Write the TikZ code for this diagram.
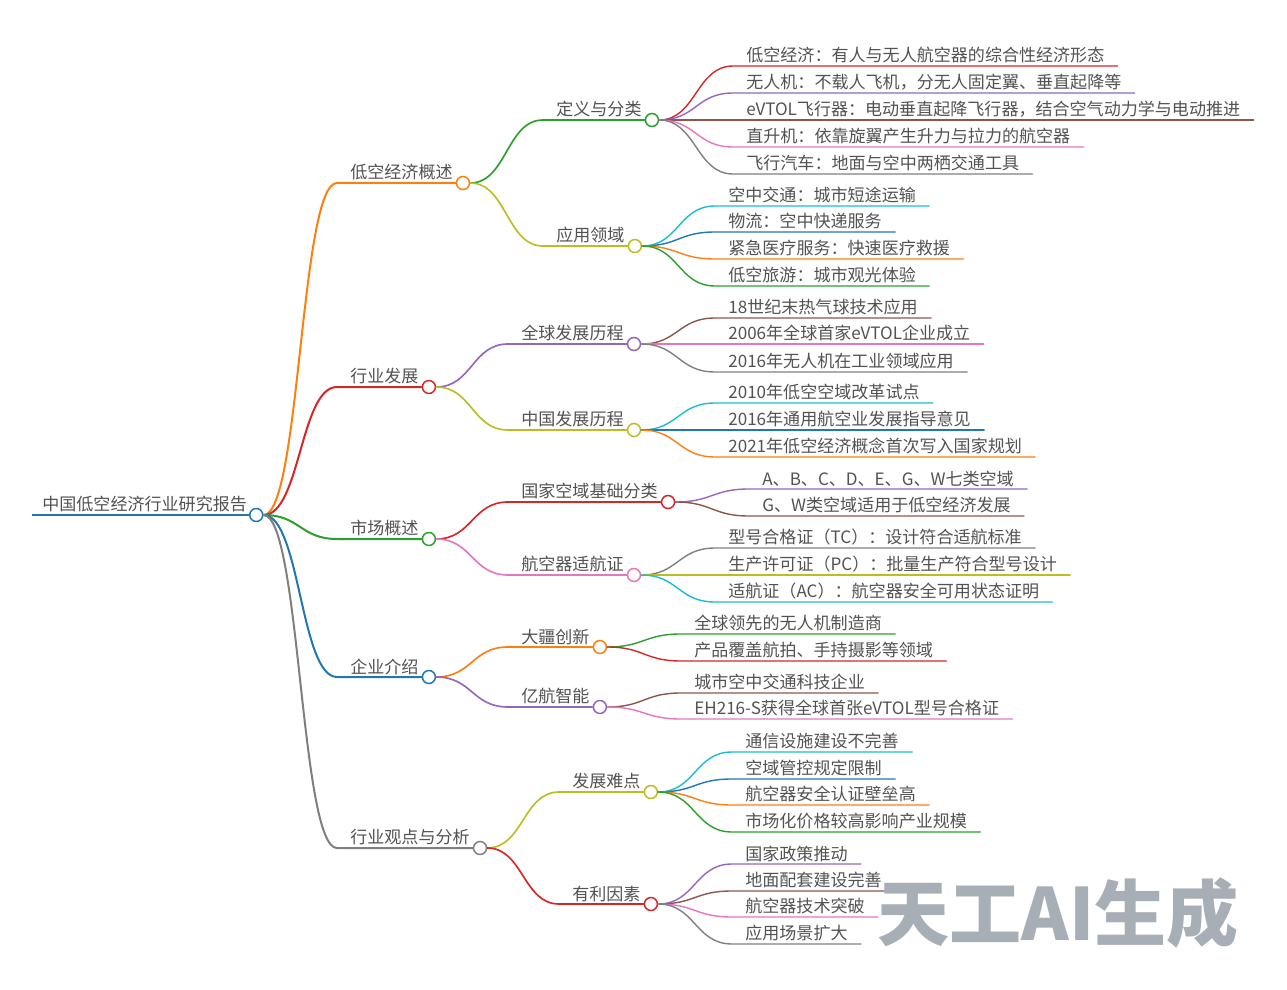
\documentclass[tikz,border=0pt]{standalone}
\usepackage{fontspec}
\setmainfont{Noto Sans CJK SC}
\usepackage{tikz}
\usetikzlibrary{calc}

\definecolor{mblue}{HTML}{1F77B4}
\definecolor{morange}{HTML}{FF7F0E}
\definecolor{mgreen}{HTML}{2CA02C}
\definecolor{mred}{HTML}{D62728}
\definecolor{mpurple}{HTML}{9467BD}
\definecolor{mbrown}{HTML}{8C564B}
\definecolor{mpink}{HTML}{E377C2}
\definecolor{mgray}{HTML}{7F7F7F}
\definecolor{molive}{HTML}{BCBD22}
\definecolor{mcyan}{HTML}{17BECF}
\definecolor{wmgray}{HTML}{A8AEB6}

\begin{document}
\begin{tikzpicture}[x=0.2mm, y=-0.2mm,
  every node/.style={font=\fontsize{9.7}{11}\selectfont, text=black!68, inner ysep=0.45mm},
  topic/.style={anchor=south west, inner xsep=2.6mm},
  dot/.style={circle, draw=#1, fill=white, line width=0.3mm, minimum size=2.6mm, inner sep=0pt},
  link/.style={line cap=round, to path={let \p1=(\tikztostart), \p2=(\tikztotarget) in
    .. controls ({(\x1+\x2)/2},\y1) and ({(\x1+\x2)/2},\y2) .. (\tikztotarget)}},
  w0/.style={line width=0.55mm},
  w1/.style={line width=0.4mm},
  w2/.style={line width=0.33mm},
  w3/.style={line width=0.28mm}]
\useasboundingbox (0,0) rectangle (1287,990);

% root
\node [topic, inner xsep=2mm] (root) at (32,515) {中国低空经济行业研究报告};
\node [dot=mblue] (root-o) at ([xshift=-0.2mm]root.south east) {};
\draw [mblue, w0] (root.south west) -- (root-o.west);

% first level
\node [topic] (ov) at (337,183) {低空经济概述};
\node [dot=morange] (ov-o) at ([xshift=-0.6mm]ov.south east) {};
\draw [morange, w1, link] (root-o.east) to (ov.south west) -- (ov-o.west);
\node [topic] (dev) at (337,387) {行业发展};
\node [dot=mred] (dev-o) at ([xshift=-0.6mm]dev.south east) {};
\draw [mred, w1, link] (root-o.east) to (dev.south west) -- (dev-o.west);
\node [topic] (mkt) at (337,539) {市场概述};
\node [dot=mgreen] (mkt-o) at ([xshift=-0.6mm]mkt.south east) {};
\draw [mgreen, w1, link] (root-o.east) to (mkt.south west) -- (mkt-o.west);
\node [topic] (ent) at (337,677) {企业介绍};
\node [dot=mblue] (ent-o) at ([xshift=-0.6mm]ent.south east) {};
\draw [mblue, w1, link] (root-o.east) to (ent.south west) -- (ent-o.west);
\node [topic] (view) at (337,848) {行业观点与分析};
\node [dot=mgray] (view-o) at ([xshift=-0.6mm]view.south east) {};
\draw [mgray, w1, link] (root-o.east) to (view.south west) -- (view-o.west);

% second level
\node [topic] (def) at (543,120) {定义与分类};
\node [dot=mgreen] (def-o) at ([xshift=-0.6mm]def.south east) {};
\draw [mgreen, w2, link] (ov-o.east) to (def.south west) -- (def-o.west);
\node [topic] (app) at (543,246) {应用领域};
\node [dot=molive] (app-o) at ([xshift=-0.6mm]app.south east) {};
\draw [molive, w2, link] (ov-o.east) to (app.south west) -- (app-o.west);
\node [topic] (glob) at (508,344) {全球发展历程};
\node [dot=mpurple] (glob-o) at ([xshift=-0.6mm]glob.south east) {};
\draw [mpurple, w2, link] (dev-o.east) to (glob.south west) -- (glob-o.west);
\node [topic] (chn) at (508,430) {中国发展历程};
\node [dot=molive] (chn-o) at ([xshift=-0.6mm]chn.south east) {};
\draw [molive, w2, link] (dev-o.east) to (chn.south west) -- (chn-o.west);
\node [topic] (air) at (508,502) {国家空域基础分类};
\node [dot=mred] (air-o) at ([xshift=-0.6mm]air.south east) {};
\draw [mred, w2, link] (mkt-o.east) to (air.south west) -- (air-o.west);
\node [topic] (cert) at (508,575) {航空器适航证};
\node [dot=mpink] (cert-o) at ([xshift=-0.6mm]cert.south east) {};
\draw [mpink, w2, link] (mkt-o.east) to (cert.south west) -- (cert-o.west);
\node [topic] (dji) at (508,647) {大疆创新};
\node [dot=morange] (dji-o) at ([xshift=-0.6mm]dji.south east) {};
\draw [morange, w2, link] (ent-o.east) to (dji.south west) -- (dji-o.west);
\node [topic] (eh) at (508,707) {亿航智能};
\node [dot=mpurple] (eh-o) at ([xshift=-0.6mm]eh.south east) {};
\draw [mpurple, w2, link] (ent-o.east) to (eh.south west) -- (eh-o.west);
\node [topic] (diff) at (559,792) {发展难点};
\node [dot=molive] (diff-o) at ([xshift=-0.6mm]diff.south east) {};
\draw [molive, w2, link] (view-o.east) to (diff.south west) -- (diff-o.west);
\node [topic] (fav) at (559,904) {有利因素};
\node [dot=mred] (fav-o) at ([xshift=-0.6mm]fav.south east) {};
\draw [mred, w2, link] (view-o.east) to (fav.south west) -- (fav-o.west);

% leaves
\node [topic] (d1) at (733,66) {低空经济：有人与无人航空器的综合性经济形态};
\draw [mred, w3, link] (def-o.east) to (d1.south west) -- (d1.south east);
\node [topic] (d2) at (733,93) {无人机：不载人飞机，分无人固定翼、垂直起降等};
\draw [mpurple, w3, link] (def-o.east) to (d2.south west) -- (d2.south east);
\node [topic] (d3) at (733,120) {eVTOL飞行器：电动垂直起降飞行器，结合空气动力学与电动推进};
\draw [mbrown, w3, link] (def-o.east) to (d3.south west) -- (d3.south east);
\node [topic] (d4) at (733,147) {直升机：依靠旋翼产生升力与拉力的航空器};
\draw [mpink, w3, link] (def-o.east) to (d4.south west) -- (d4.south east);
\node [topic] (d5) at (733,174) {飞行汽车：地面与空中两栖交通工具};
\draw [mgray, w3, link] (def-o.east) to (d5.south west) -- (d5.south east);

\node [topic] (a1) at (715,206) {空中交通：城市短途运输};
\draw [mcyan, w3, link] (app-o.east) to (a1.south west) -- (a1.south east);
\node [topic] (a2) at (715,232) {物流：空中快递服务};
\draw [mblue, w3, link] (app-o.east) to (a2.south west) -- (a2.south east);
\node [topic] (a3) at (715,259) {紧急医疗服务：快速医疗救援};
\draw [morange, w3, link] (app-o.east) to (a3.south west) -- (a3.south east);
\node [topic] (a4) at (715,286) {低空旅游：城市观光体验};
\draw [mgreen, w3, link] (app-o.east) to (a4.south west) -- (a4.south east);

\node [topic] (g1) at (715,318) {18世纪末热气球技术应用};
\draw [mbrown, w3, link] (glob-o.east) to (g1.south west) -- (g1.south east);
\node [topic] (g2) at (715,344) {2006年全球首家eVTOL企业成立};
\draw [mpink, w3, link] (glob-o.east) to (g2.south west) -- (g2.south east);
\node [topic] (g3) at (715,372) {2016年无人机在工业领域应用};
\draw [mgray, w3, link] (glob-o.east) to (g3.south west) -- (g3.south east);

\node [topic] (c1) at (715,403) {2010年低空空域改革试点};
\draw [mcyan, w3, link] (chn-o.east) to (c1.south west) -- (c1.south east);
\node [topic] (c2) at (715,430) {2016年通用航空业发展指导意见};
\draw [mblue, w3, link] (chn-o.east) to (c2.south west) -- (c2.south east);
\node [topic] (c3) at (715,457) {2021年低空经济概念首次写入国家规划};
\draw [morange, w3, link] (chn-o.east) to (c3.south west) -- (c3.south east);

\node [topic] (s1) at (749,489) {A、B、C、D、E、G、W七类空域};
\draw [mpurple, w3, link] (air-o.east) to (s1.south west) -- (s1.south east);
\node [topic] (s2) at (749,516) {G、W类空域适用于低空经济发展};
\draw [mbrown, w3, link] (air-o.east) to (s2.south west) -- (s2.south east);

\node [topic] (t1) at (715,548) {型号合格证（TC）：设计符合适航标准};
\draw [mgray, w3, link] (cert-o.east) to (t1.south west) -- (t1.south east);
\node [topic] (t2) at (715,575) {生产许可证（PC）：批量生产符合型号设计};
\draw [molive, w3, link] (cert-o.east) to (t2.south west) -- (t2.south east);
\node [topic] (t3) at (715,602) {适航证（AC）：航空器安全可用状态证明};
\draw [mcyan, w3, link] (cert-o.east) to (t3.south west) -- (t3.south east);

\node [topic] (j1) at (681,634) {全球领先的无人机制造商};
\draw [mgreen, w3, link] (dji-o.east) to (j1.south west) -- (j1.south east);
\node [topic] (j2) at (681,661) {产品覆盖航拍、手持摄影等领域};
\draw [mred, w3, link] (dji-o.east) to (j2.south west) -- (j2.south east);

\node [topic] (e1) at (681,693) {城市空中交通科技企业};
\draw [mbrown, w3, link] (eh-o.east) to (e1.south west) -- (e1.south east);
\node [topic] (e2) at (681,719) {EH216-S获得全球首张eVTOL型号合格证};
\draw [mpink, w3, link] (eh-o.east) to (e2.south west) -- (e2.south east);

\node [topic] (f1) at (732,752) {通信设施建设不完善};
\draw [mcyan, w3, link] (diff-o.east) to (f1.south west) -- (f1.south east);
\node [topic] (f2) at (732,779) {空域管控规定限制};
\draw [mblue, w3, link] (diff-o.east) to (f2.south west) -- (f2.south east);
\node [topic] (f3) at (732,805) {航空器安全认证壁垒高};
\draw [morange, w3, link] (diff-o.east) to (f3.south west) -- (f3.south east);
\node [topic] (f4) at (732,832) {市场化价格较高影响产业规模};
\draw [mgreen, w3, link] (diff-o.east) to (f4.south west) -- (f4.south east);

\node [topic] (p1) at (732,864) {国家政策推动};
\draw [mpurple, w3, link] (fav-o.east) to (p1.south west) -- (p1.south east);
\node [topic] (p2) at (732,891) {地面配套建设完善};
\draw [mbrown, w3, link] (fav-o.east) to (p2.south west) -- (p2.south east);
\node [topic] (p3) at (732,917) {航空器技术突破};
\draw [mpink, w3, link] (fav-o.east) to (p3.south west) -- (p3.south east);
\node [topic] (p4) at (732,944) {应用场景扩大};
\draw [mgray, w3, link] (fav-o.east) to (p4.south west) -- (p4.south east);

% watermark
\node [font=\fontsize{41}{44}\selectfont\bfseries, text=wmgray] (mark) at (1058,913) {天工AI生成};
\end{tikzpicture}
\end{document}
